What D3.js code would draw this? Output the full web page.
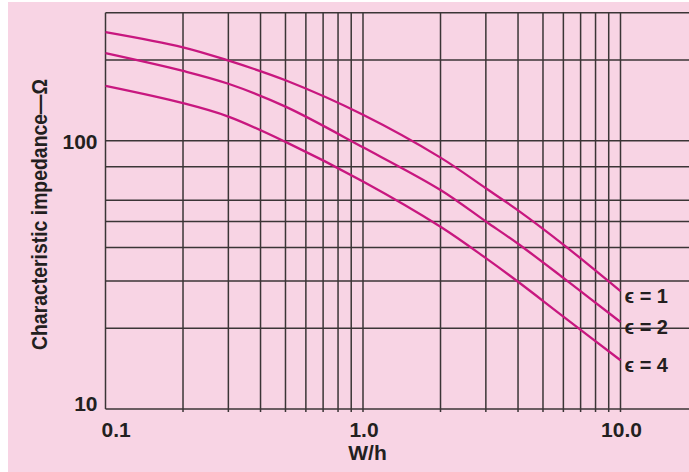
<!DOCTYPE html>
<html>
<head>
<meta charset="utf-8">
<script src="https://cdn.jsdelivr.net/npm/d3@7"></script>
<style>
  html, body { margin: 0; padding: 0; background: #ffffff; }
  svg { display: block; }
</style>
</head>
<body>
<svg id="chart" width="689" height="472"></svg>
<script>
// ---- data ----
const xGrid = [0.1,0.2,0.3,0.4,0.5,0.6,0.7,0.8,0.9,1,2,3,4,5,6,7,8,9,10];
const yGrid = [10,20,30,40,50,60,80,100,200,300];
const xTickLabels = [{v:0.1, t:"0.1"}, {v:1, t:"1.0"}, {v:10, t:"10.0"}];
const yTickLabels = [{v:100, t:"100"}, {v:10, t:"10"}];

const wh = [0.1, 0.2, 0.3, 0.5, 1, 2, 3, 4, 6, 10];
const eps1 = [254, 223, 199, 168, 125, 86.5, 66.5, 55, 41, 27.5];
const eps2 = [212, 182, 163, 134, 94.5, 65.5, 50, 41.3, 30.8, 21.1];
const eps4 = [160, 138, 123, 99, 70.5, 47.8, 36.5, 29.8, 22.1, 15.2];

const seriesNames = ["\u03F5 = 1", "\u03F5 = 2", "\u03F5 = 4"];

// ---- layout ----
const svg = d3.select("#chart");
const W = 689, H = 472;
const mLeft = 105.5, mRight = 620.5, mTop = 12.7, mBottom = 409;

svg.append("rect").attr("x", 8).attr("y", 2).attr("width", W - 8).attr("height", H - 2)
  .attr("fill", "#f8d4e4");

const x = d3.scaleLog().domain([0.1, 10]).range([mLeft, mRight]);
const y = d3.scaleLog().domain([10, 300]).range([mBottom, mTop]);

const gridColor = "#3b3536";

// horizontal grid lines (extend to right edge)
svg.append("g").selectAll("line").data(yGrid).join("line")
  .attr("x1", x(0.1)).attr("x2", W)
  .attr("y1", d => y(d)).attr("y2", d => y(d))
  .attr("stroke", gridColor).attr("stroke-width", 1.5);

// vertical grid lines
svg.append("g").selectAll("line").data(xGrid).join("line")
  .attr("x1", d => x(d)).attr("x2", d => x(d))
  .attr("y1", y(300)).attr("y2", d => d === 0.1 ? y(10) : y(10) + 3)
  .attr("stroke", gridColor).attr("stroke-width", 1.5);

// curves
const series = [
  {ys: eps1, name: seriesNames[0]},
  {ys: eps2, name: seriesNames[1]},
  {ys: eps4, name: seriesNames[2]}
];
const line = d3.line().x(d => x(d[0])).y(d => y(d[1])).curve(d3.curveCatmullRom.alpha(0.5));
svg.append("g").selectAll("path").data(series).join("path")
  .attr("d", s => line(wh.map((v, i) => [v, s.ys[i]])))
  .attr("fill", "none").attr("stroke", "#c8177f").attr("stroke-width", 2.3);

// series labels
svg.append("g").selectAll("text").data(series).join("text")
  .attr("x", x(10) + 4)
  .attr("y", s => y(s.ys[s.ys.length - 1]) + 12)
  .attr("font-family", "'Liberation Sans', Arial, sans-serif")
  .attr("font-weight", "bold").attr("font-size", 20)
  .attr("fill", "#231f20")
  .text(s => s.name);

// x tick labels
svg.append("g").selectAll("text").data(xTickLabels).join("text")
  .attr("x", d => d.v === 0.1 ? x(d.v) - 4 : x(d.v) + 1)
  .attr("y", 436.5)
  .attr("text-anchor", d => d.v === 0.1 ? "start" : "middle")
  .attr("font-family", "'Liberation Sans', Arial, sans-serif")
  .attr("font-weight", "bold").attr("font-size", 21)
  .attr("fill", "#231f20")
  .text(d => d.t);

// y tick labels
svg.append("g").selectAll("text").data(yTickLabels).join("text")
  .attr("x", x(0.1) - 8)
  .attr("y", d => d.v === 10 ? y(d.v) + 2 : y(d.v) + 8)
  .attr("text-anchor", "end")
  .attr("font-family", "'Liberation Sans', Arial, sans-serif")
  .attr("font-weight", "bold").attr("font-size", 21)
  .attr("fill", "#231f20")
  .text(d => d.t);

// x axis title
svg.append("text")
  .attr("x", 367.5).attr("y", 460)
  .attr("text-anchor", "middle")
  .attr("font-family", "'Liberation Sans', Arial, sans-serif")
  .attr("font-weight", "bold").attr("font-size", 21)
  .attr("fill", "#231f20")
  .text("W/h");

// y axis title
svg.append("text")
  .attr("transform", "translate(47,214.5) rotate(-90)")
  .attr("text-anchor", "middle")
  .attr("font-family", "'Liberation Sans Narrow', 'Liberation Sans', Arial, sans-serif")
  .attr("font-weight", "bold").attr("font-size", 22)
  .attr("textLength", 271).attr("lengthAdjust", "spacingAndGlyphs")
  .attr("fill", "#231f20")
  .text("Characteristic impedance\u2014\u03A9");
</script>
</body>
</html>
